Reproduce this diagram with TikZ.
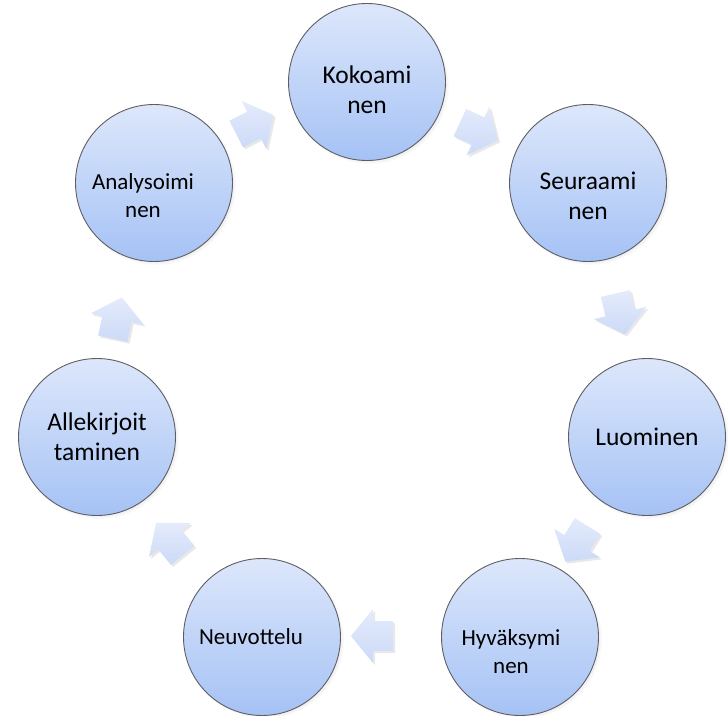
\documentclass[tikz,border=0pt]{standalone}
\usepackage{fontspec}
\setmainfont{Carlito}
\usetikzlibrary{shadows}
\definecolor{balltop}{HTML}{DDE7FB}
\definecolor{ballbot}{HTML}{A5C2F5}
\definecolor{ballline}{HTML}{5E5E62}
\definecolor{arrtop}{HTML}{E4EBFB}
\definecolor{arrbot}{HTML}{CCDAF8}
\tikzset{
  ball/.style={circle, draw=ballline, line width=0.9pt, top color=balltop, bottom color=ballbot,
    minimum size=157pt, inner sep=0pt, align=center, text=black,
    circular drop shadow={shadow scale=1.02, shadow xshift=2pt, shadow yshift=-2pt, opacity=0.35}},
  bigtext/.style={font=\fontsize{25.5}{30}\selectfont, align=center, text=black},
  smalltext/.style={font=\fontsize{23}{28}\selectfont, align=center, text=black},
  arrowbody/.style={top color=arrtop, bottom color=arrbot, draw=none,
    drop shadow={shadow xshift=2pt, shadow yshift=-2pt, opacity=0.18}},
  cyclearrow/.pic={\path[arrowbody] (-20,-15) -- (0,-15) -- (0,-27) -- (22,0) -- (0,27) -- (0,15) -- (-20,15) -- cycle;}
}
\begin{document}
\begin{tikzpicture}[x=1pt,y=-1pt]
\useasboundingbox (0,0) rectangle (728,715);
\node[ball, label={[bigtext, yshift=-8pt]center:Kokoami\\nen}] (kok) at (367,82) {};
\node[ball, label={[bigtext, yshift=-13pt]center:Seuraami\\nen}] (seu) at (588,183) {};
\node[ball, bigtext] (luo) at (647,437) {Luominen};
\node[ball, label={[smalltext, xshift=-9pt, yshift=-15pt]center:Hyväksymi\\nen}] (hyv) at (520,637) {};
\node[ball, label={[smalltext, xshift=-11pt]center:Neuvottelu}] (neu) at (262,637) {};
\node[ball, bigtext] (all) at (97,437) {Allekirjoit\\taminen};
\node[ball, label={[smalltext, xshift=-11pt, yshift=-13pt]center:Analysoimi\\nen}] (ana) at (154,183) {};
\pic[rotate=27] (a1) at (254,125) {cyclearrow};
\pic[rotate=-25] (a2) at (478,131) {cyclearrow};
\pic[rotate=-77] (a3) at (620,313) {cyclearrow};
\pic[rotate=-122] (a4) at (577,543) {cyclearrow};
\pic[rotate=180] (a5) at (373,636) {cyclearrow};
\pic[rotate=129] (a6) at (170,540) {cyclearrow};
\pic[rotate=78] (a7) at (117,319) {cyclearrow};
\end{tikzpicture}
\end{document}
